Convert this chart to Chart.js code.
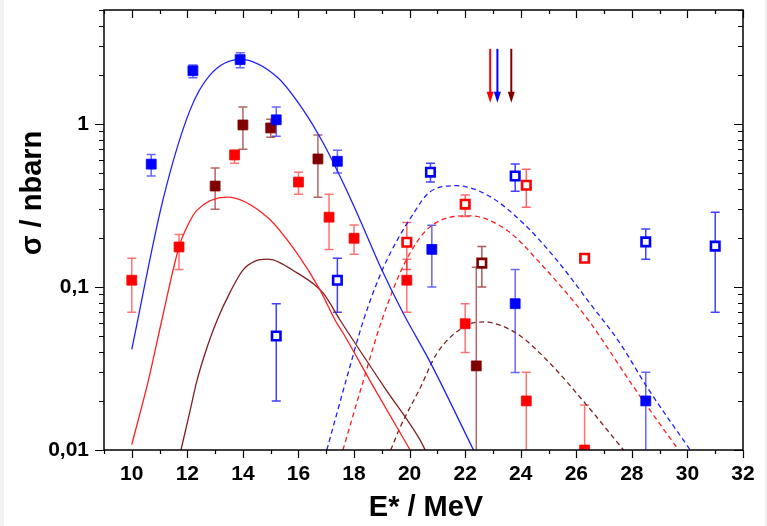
<!DOCTYPE html>
<html>
<head>
<meta charset="utf-8">
<script src="https://cdn.jsdelivr.net/npm/chart.js@4.4.1/dist/chart.umd.min.js"></script>
<style>
  html, body { margin: 0; padding: 0; background: #fff; }
  #myChart { display: block; }
</style>
</head>
<body>
<canvas id="myChart" width="767" height="526"></canvas>
<script>
// measured points (E*, sigma) with error bar limits
var blueX = [10.7, 12.2, 13.9, 15.2, 17.4, 20.8, 23.8, 28.5];
var blueY = [0.567, 2.12, 2.48, 1.06, 0.59, 0.17, 0.079, 0.02];
var blueLo = [0.48, 1.92, 2.21, 0.84, 0.50, 0.10, 0.0299, 0.005];
var blueHi = [0.65, 2.30, 2.73, 1.27, 0.69, 0.239, 0.128, 0.03];

var redX = [10.0, 11.7, 13.7, 16.0, 17.1, 18.0, 19.9, 22.0, 24.2, 26.3];
var redY = [0.11, 0.176, 0.645, 0.44, 0.268, 0.199, 0.11, 0.0595, 0.02, 0.01];
var redLo = [0.07, 0.128, 0.575, 0.37, 0.17, 0.159, 0.07, 0.0397, 0.005, 0.005];
var redHi = [0.15, 0.21, 0.69, 0.506, 0.37, 0.24, 0.148, 0.079, 0.03, 0.0189];

var dredX = [13.0, 14.0, 15.0, 16.7, 22.4];
var dredY = [0.416, 0.986, 0.945, 0.61, 0.0328];
var dredLo = [0.30, 0.70, 0.83, 0.355, 0.005];
var dredHi = [0.536, 1.27, 1.07, 0.855, 0.132];

var blueOpenX = [15.2, 17.4, 20.75, 23.8, 28.5, 31.0];
var blueOpenY = [0.05, 0.11, 0.506, 0.479, 0.189, 0.178];
var blueOpenLo = [0.02, 0.07, 0.44, 0.387, 0.148, 0.07];
var blueOpenHi = [0.079, 0.15, 0.575, 0.567, 0.227, 0.287];

var redOpenX = [19.9, 22.0, 24.2, 26.3];
var redOpenY = [0.188, 0.322, 0.421, 0.15];
var redOpenLo = [0.128, 0.271, 0.308, null];
var redOpenHi = [0.249, 0.366, 0.528, null];

var dredOpenX = [22.6];
var dredOpenY = [0.14];
var dredOpenLo = [0.10];
var dredOpenHi = [0.177];

// calculated curves
var blueLineX = [10.0, 11.12, 12.1, 12.82, 13.9, 15.23, 16.17, 16.89, 17.61, 18.22, 18.94, 19.77, 20.74, 22.3];
var blueLineY = [0.0414, 0.341, 1.22, 2.0, 2.49, 1.94, 1.22, 0.764, 0.434, 0.257, 0.134, 0.069, 0.0346, 0.01];

var redLineX = [10.0, 10.6, 11.08, 11.7, 12.02, 12.35, 13.43, 14.87, 15.95, 16.78, 17.32, 17.61, 18.7, 20.02];
var redLineY = [0.0108, 0.0268, 0.0625, 0.176, 0.24, 0.296, 0.356, 0.269, 0.161, 0.0957, 0.0625, 0.052, 0.0244, 0.01];

var dredLineX = [11.77, 12.06, 12.35, 12.71, 13.07, 13.54, 14.0, 14.44, 14.87, 15.95, 16.89, 17.5, 19.08, 20.38, 20.56];
var dredLineY = [0.01, 0.0163, 0.0268, 0.0427, 0.0625, 0.093, 0.127, 0.144, 0.148, 0.122, 0.0917, 0.0625, 0.0244, 0.0115, 0.01];

var blueDashX = [17.02, 17.72, 18.34, 19.06, 20.14, 20.74, 21.7, 22.9, 24.1, 25.3, 26.5, 27.58, 28.54, 30.1];
var blueDashY = [0.01, 0.027, 0.0625, 0.132, 0.283, 0.384, 0.418, 0.358, 0.245, 0.146, 0.079, 0.045, 0.0244, 0.01];

var redDashX = [17.6, 18.34, 19.0, 19.85, 20.74, 22.18, 23.5, 24.7, 26.44, 27.1, 28.06, 29.68];
var redDashY = [0.01, 0.0268, 0.0625, 0.143, 0.234, 0.273, 0.223, 0.14, 0.0625, 0.0429, 0.0244, 0.01];

var dredDashX = [19.32, 19.66, 20.38, 20.98, 22.06, 22.66, 23.86, 25.06, 26.38, 27.7];
var dredDashY = [0.01, 0.0138, 0.024, 0.0391, 0.0583, 0.061, 0.0518, 0.0339, 0.0188, 0.01];

// arrows at the top
var arrowX = [22.9, 23.16, 23.66];
var arrowTop = [2.89, 2.89, 2.89];
var arrowBottom = [1.35, 1.35, 1.35];
var arrowColors = ["#ff0000", "#0000ff", "#800000"];

var xTicks = [10, 12, 14, 16, 18, 20, 22, 24, 26, 28, 30, 32];
var yTicks = [0.01, 0.1, 1];
var yTickLabels = ["0,01", "0,1", "1"];

var BLUE = "#0000ff";
var RED = "#ff0000";
var DRED = "#800000";

function pts(xs, ys) {
  var out = [];
  for (var i = 0; i < xs.length; i++) out.push({ x: xs[i], y: ys[i] });
  return out;
}

function pointSet(xs, ys, color, open) {
  return {
    data: pts(xs, ys),
    showLine: false,
    pointStyle: "rect",
    pointRadius: open ? 6 : 7,
    pointBorderWidth: open ? 2.6 : 0.8,
    pointBackgroundColor: open ? "#ffffff" : color,
    pointBorderColor: color,
    borderColor: color,
    backgroundColor: color,
  };
}

function lineSet(xs, ys, color, dashed) {
  return {
    data: pts(xs, ys),
    showLine: true,
    pointRadius: 0,
    borderWidth: 1.3,
    borderColor: color,
    borderDash: dashed ? [5, 3.5] : [],
    cubicInterpolationMode: "monotone",
    fill: false,
  };
}

var errSets = [
  [blueX, blueLo, blueHi, "rgba(0,0,255,0.6)"],
  [redX, redLo, redHi, "rgba(255,0,0,0.55)"],
  [dredX, dredLo, dredHi, "rgba(128,0,0,0.6)"],
  [blueOpenX, blueOpenLo, blueOpenHi, "rgba(0,0,255,0.75)"],
  [redOpenX, redOpenLo, redOpenHi, "rgba(255,0,0,0.6)"],
  [dredOpenX, dredOpenLo, dredOpenHi, "rgba(128,0,0,0.65)"],
];

var extras = {
  id: "extras",
  beforeDraw: function (chart) {
    var ctx = chart.ctx;
    ctx.save();
    ctx.fillStyle = "#ffffff";
    ctx.fillRect(0, 0, chart.width, chart.height);
    ctx.fillStyle = "#f2f2f2";
    ctx.fillRect(0, 0, 4, chart.height);
    ctx.fillRect(chart.width - 2, 0, 2, chart.height);
    ctx.restore();
  },
  beforeDatasetsDraw: function (chart) {
    var ctx = chart.ctx;
    var xs = chart.scales.x, ys = chart.scales.y, a = chart.chartArea;
    ctx.save();
    ctx.beginPath();
    ctx.rect(a.left, a.top, a.right - a.left, a.bottom - a.top);
    ctx.clip();
    ctx.lineWidth = 1.5;
    errSets.forEach(function (s) {
      ctx.strokeStyle = s[3];
      for (var i = 0; i < s[0].length; i++) {
        if (s[1][i] == null) continue;
        var px = xs.getPixelForValue(s[0][i]);
        var y1 = ys.getPixelForValue(s[1][i]);
        var y2 = ys.getPixelForValue(s[2][i]);
        ctx.beginPath();
        ctx.moveTo(px, y1);
        ctx.lineTo(px, y2);
        ctx.moveTo(px - 4.5, y1);
        ctx.lineTo(px + 4.5, y1);
        ctx.moveTo(px - 4.5, y2);
        ctx.lineTo(px + 4.5, y2);
        ctx.stroke();
      }
    });
    ctx.restore();
  },
  afterDraw: function (chart) {
    var ctx = chart.ctx;
    var xs = chart.scales.x, ys = chart.scales.y, a = chart.chartArea;
    ctx.save();
    ctx.strokeStyle = "#000";
    ctx.lineWidth = 1.5;
    ctx.strokeRect(a.left, a.top, a.right - a.left, a.bottom - a.top);
    ctx.lineWidth = 1.2;
    ctx.beginPath();
    for (var v = 9; v <= 32; v++) {
      var px = Math.round(xs.getPixelForValue(v)) + 0.5;
      var len = v % 2 === 0 ? 8 : 4;
      ctx.moveTo(px, a.bottom);
      ctx.lineTo(px, a.bottom + len);
      ctx.moveTo(px, a.top);
      ctx.lineTo(px, a.top + len);
    }
    for (var k = -2; k <= 0; k++) {
      for (var m = 1; m <= 9; m++) {
        var val = m * Math.pow(10, k);
        if (val > 5.0001) continue;
        var py = Math.round(ys.getPixelForValue(val)) + 0.5;
        var l = m === 1 ? 9 : 5;
        ctx.moveTo(a.left, py);
        ctx.lineTo(a.left - l, py);
        ctx.moveTo(a.right, py);
        ctx.lineTo(a.right - l, py);
      }
    }
    ctx.stroke();

    // arrows
    for (var i = 0; i < arrowX.length; i++) {
      var ax = xs.getPixelForValue(arrowX[i]);
      var t = ys.getPixelForValue(arrowTop[i]);
      var b = ys.getPixelForValue(arrowBottom[i]);
      ctx.strokeStyle = arrowColors[i];
      ctx.fillStyle = arrowColors[i];
      ctx.lineWidth = 2;
      ctx.beginPath();
      ctx.moveTo(ax, t);
      ctx.lineTo(ax, b - 10);
      ctx.stroke();
      ctx.beginPath();
      ctx.moveTo(ax - 3.5, b - 11);
      ctx.lineTo(ax + 3.5, b - 11);
      ctx.lineTo(ax, b);
      ctx.closePath();
      ctx.fill();
    }

    // axis titles
    ctx.fillStyle = "#000";
    ctx.font = "bold 29px 'Liberation Sans', Arial, sans-serif";
    ctx.textAlign = "center";
    ctx.textBaseline = "middle";
    ctx.fillText("E* / MeV", 426, 508);
    ctx.translate(33, 193);
    ctx.rotate(-Math.PI / 2);
    ctx.fillText("σ / nbarn", 0, 0);
    ctx.restore();
  },
};

var tickFont = { family: "'Liberation Sans', Arial, sans-serif", size: 21, weight: "bold" };

new Chart("myChart", {
  type: "scatter",
  data: {
    datasets: [
      pointSet(blueOpenX, blueOpenY, BLUE, true),
      pointSet(redOpenX, redOpenY, RED, true),
      pointSet(dredOpenX, dredOpenY, DRED, true),
      pointSet(blueX, blueY, BLUE, false),
      pointSet(redX, redY, RED, false),
      pointSet(dredX, dredY, DRED, false),
      lineSet(blueLineX, blueLineY, "#2020ff", false),
      lineSet(redLineX, redLineY, "#ff2020", false),
      lineSet(dredLineX, dredLineY, "#802020", false),
      lineSet(blueDashX, blueDashY, "#2020ff", true),
      lineSet(redDashX, redDashY, "#ff2020", true),
      lineSet(dredDashX, dredDashY, "#802020", true),
    ],
  },
  options: {
    responsive: false,
    animation: false,
    devicePixelRatio: 1,
    layout: { padding: { top: 10, right: 24, left: 0, bottom: 0 } },
    plugins: { legend: { display: false }, tooltip: { enabled: false } },
    scales: {
      x: {
        type: "linear",
        min: 9,
        max: 32,
        grid: { display: false, drawTicks: false },
        border: { display: false },
        afterFit: function (s) {
          s.height = 76;
          s.paddingLeft = 0;
          s.paddingRight = 0;
        },
        afterBuildTicks: function (s) {
          s.ticks = xTicks.map(function (v) { return { value: v }; });
        },
        ticks: {
          autoSkip: false,
          maxRotation: 0,
          padding: 12,
          color: "#000",
          font: tickFont,
          callback: function (v) { return String(v); },
        },
      },
      y: {
        type: "logarithmic",
        min: 0.01,
        max: 5,
        grid: { display: false, drawTicks: false },
        border: { display: false },
        afterFit: function (s) {
          s.width = 104;
          s.paddingTop = 0;
          s.paddingBottom = 0;
        },
        afterBuildTicks: function (s) {
          s.ticks = yTicks.map(function (v) { return { value: v }; });
        },
        ticks: {
          autoSkip: false,
          padding: 15,
          color: "#000",
          font: tickFont,
          callback: function (v) {
            var i = yTicks.indexOf(v);
            return i >= 0 ? yTickLabels[i] : "";
          },
        },
      },
    },
  },
  plugins: [extras],
});
</script>
</body>
</html>
